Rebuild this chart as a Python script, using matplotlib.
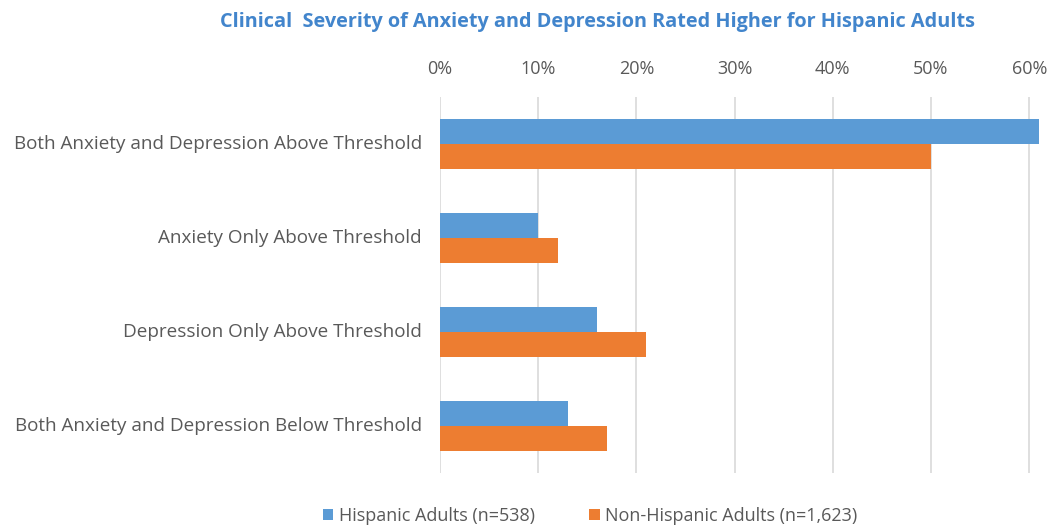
import matplotlib
matplotlib.use('Agg')
import matplotlib.pyplot as plt
from matplotlib.ticker import PercentFormatter

# data
categories = ['Both Anxiety and Depression Above Threshold',
              'Anxiety Only Above Threshold',
              'Depression Only Above Threshold',
              'Both Anxiety and Depression Below Threshold']
hispanic = [0.61, 0.10, 0.16, 0.13]
non_hispanic = [0.50, 0.12, 0.21, 0.17]
series_names = ['Hispanic Adults (n=538)', 'Non-Hispanic Adults (n=1,623)']
xticks = [0, 0.1, 0.2, 0.3, 0.4, 0.5, 0.6]

plt.rcParams['font.family'] = ['Open Sans', 'DejaVu Sans']
gray = '#595959'

fig = plt.figure(figsize=(10.48, 5.27), dpi=100)
ax = fig.add_axes([440 / 1048, 1 - 473 / 527, 600 / 1048, 376 / 527])

h = 0.266
ypos = list(range(len(categories)))
ax.barh([y - h / 2 for y in ypos], hispanic, height=h, color='#5B9BD5',
        label=series_names[0], zorder=3)
ax.barh([y + h / 2 for y in ypos], non_hispanic, height=h, color='#ED7D31',
        label=series_names[1], zorder=3)

ax.set_ylim(3.5, -0.5)
ax.set_xlim(0, 0.611)
ax.set_yticks(ypos)
ax.set_yticklabels(categories, fontsize=13.6, color=gray)
ax.set_xticks(xticks)
ax.xaxis.set_major_formatter(PercentFormatter(1.0, decimals=0))
ax.xaxis.tick_top()
ax.tick_params(axis='x', length=0, pad=14, labelsize=13, labelcolor=gray)
ax.tick_params(axis='y', length=0, pad=13)
for lbl in ax.get_yticklabels():
    lbl.set_verticalalignment('center')
ax.grid(axis='x', color='#D9D9D9', linewidth=1.2, zorder=0)
for s in ax.spines.values():
    s.set_visible(False)

fig.text(598 / 1048, 1 - 22 / 527,
         'Clinical  Severity of Anxiety and Depression Rated Higher for Hispanic Adults',
         ha='center', va='center', fontsize=14.3, fontweight='bold', color='#4285CC')

fig.legend(loc='center', bbox_to_anchor=(590 / 1048, 1 - 516 / 527), ncol=2,
           frameon=False, fontsize=13, labelcolor=gray, handlelength=0.6,
           handleheight=0.6, handletextpad=0.3, columnspacing=3.0)

fig.savefig('out.png', dpi=100)
